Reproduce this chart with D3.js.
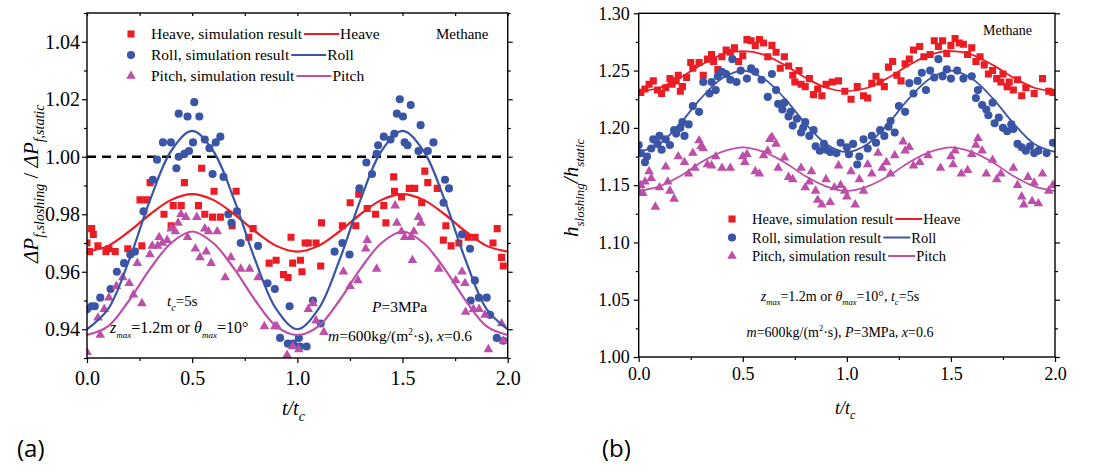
<!DOCTYPE html>
<html>
<head>
<meta charset="utf-8">
<script src="https://cdn.jsdelivr.net/npm/d3@7"></script>
<style>
  body { margin: 0; background: #fff; }
  svg { display: block; }
</style>
</head>
<body>
<div id="chart"></div>
<script>
// ---------- data ----------
const curveT = [0, 0.1, 0.2, 0.3, 0.4, 0.5, 0.6, 0.7, 0.8, 0.9, 1.0, 1.1, 1.2, 1.3, 1.4, 1.5, 1.6, 1.7, 1.8, 1.9, 2.0];

// (a) pressure drop ratio
const aHeaveFit = [0.967, 0.969, 0.974, 0.980, 0.985, 0.987, 0.985, 0.980, 0.974, 0.969, 0.967, 0.969, 0.974, 0.980, 0.985, 0.987, 0.985, 0.980, 0.974, 0.969, 0.967];
const aRollFit  = [0.940, 0.947, 0.964, 0.985, 1.002, 1.009, 1.002, 0.985, 0.964, 0.947, 0.940, 0.947, 0.964, 0.985, 1.002, 1.009, 1.002, 0.985, 0.964, 0.947, 0.940];
const aPitchFit = [0.938, 0.941, 0.950, 0.961, 0.970, 0.974, 0.970, 0.961, 0.950, 0.941, 0.938, 0.941, 0.950, 0.961, 0.970, 0.974, 0.970, 0.961, 0.950, 0.941, 0.938];

const aHeavePts = [[0.000,0.970],[0.012,0.967],[0.022,0.975],[0.030,0.973],[0.052,0.969],[0.090,0.967],[0.104,0.968],[0.134,0.967],
  [0.194,0.968],[0.252,0.985],[0.284,0.985],[0.261,0.969],[0.300,0.991],[0.366,0.980],[0.400,0.976],[0.410,0.983],[0.448,0.983],
  [0.463,0.991],[0.530,0.983],[0.545,0.996],[0.560,0.980],[0.597,0.979],[0.604,0.988],[0.634,0.979],[0.690,0.976],[0.709,0.988],
  [0.769,0.972],[0.790,0.975],[0.866,0.963],[0.899,0.964],[0.934,0.959],[0.956,0.958],[0.978,0.963],[0.970,0.972],[1.015,0.964],
  [1.022,0.960],[1.037,0.970],[1.052,0.970],[1.089,0.970],[1.111,0.962],[1.115,0.977],[1.214,0.976],[1.251,0.984],[1.278,0.976],
  [1.292,0.987],[1.332,0.982],[1.372,0.980],[1.411,0.983],[1.421,0.977],[1.458,0.993],[1.462,0.988],[1.495,0.986],[1.532,0.989],
  [1.558,0.989],[1.591,0.984],[1.606,0.995],[1.620,0.991],[1.665,0.989],[1.694,0.971],[1.706,0.976],[1.731,0.969],[1.768,0.970],
  [1.812,0.972],[1.845,0.972],[1.930,0.970],[1.950,0.975],[1.971,0.965],[1.979,0.962]];

const aRollPts = [[0.000,0.947],[0.022,0.948],[0.037,0.948],[0.063,0.951],[0.112,0.954],[0.142,0.960],[0.176,0.963],[0.206,0.966],
  [0.228,0.967],[0.269,0.981],[0.313,0.992],[0.333,0.999],[0.361,1.005],[0.399,1.005],[0.425,0.996],[0.436,1.000],[0.463,1.001],
  [0.485,1.002],[0.436,1.015],[0.478,1.014],[0.534,1.014],[0.510,1.019],[0.504,1.005],[0.560,1.006],[0.582,1.003],[0.612,1.005],
  [0.634,1.007],[0.597,0.994],[0.649,0.993],[0.672,0.980],[0.713,0.981],[0.687,0.977],[0.731,0.970],[0.813,0.969],[0.858,0.956],
  [0.893,0.954],[0.918,0.937],[0.955,0.935],[0.963,0.948],[0.980,0.935],[1.007,0.937],[1.012,0.934],[1.044,0.934],[1.074,0.950],
  [1.111,0.942],[1.177,0.967],[1.214,0.970],[1.248,0.966],[1.295,0.989],[1.328,0.998],[1.355,0.994],[1.377,1.001],[1.384,1.004],
  [1.411,1.007],[1.443,1.006],[1.461,1.008],[1.473,1.015],[1.487,1.020],[1.502,1.014],[1.539,1.018],[1.510,1.005],[1.524,1.004],
  [1.586,1.011],[1.576,1.002],[1.620,1.002],[1.647,1.005],[1.702,0.992],[1.721,0.989],[1.695,0.984],[1.783,0.973],[1.821,0.968],
  [1.844,0.957],[1.824,0.950],[1.863,0.951],[1.900,0.951],[1.916,0.945],[1.948,0.937],[1.979,0.936]];

const aPitchPts = [[0.000,0.932],[0.052,0.944],[0.063,0.938],[0.082,0.947],[0.104,0.951],[0.140,0.955],[0.170,0.958],[0.201,0.956],
  [0.221,0.952],[0.261,0.949],[0.239,0.963],[0.299,0.966],[0.310,0.969],[0.336,0.969],[0.358,0.970],[0.381,0.971],[0.343,0.972],
  [0.400,0.975],[0.420,0.974],[0.447,0.980],[0.433,0.977],[0.470,0.979],[0.478,0.972],[0.515,0.968],[0.522,0.979],[0.537,0.965],
  [0.560,0.975],[0.567,0.967],[0.578,0.974],[0.590,0.963],[0.619,0.974],[0.657,0.958],[0.684,0.965],[0.731,0.961],[0.773,0.961],
  [0.813,0.958],[0.843,0.941],[0.893,0.941],[0.903,0.941],[0.951,0.931],[0.978,0.934],[1.007,0.933],[1.052,0.947],[1.074,0.949],
  [1.089,0.943],[1.126,0.939],[1.219,0.960],[1.251,0.955],[1.288,0.957],[1.325,0.968],[1.332,0.971],[1.377,0.961],[1.465,0.983],
  [1.473,0.977],[1.495,0.974],[1.510,0.972],[1.539,0.972],[1.554,0.974],[1.576,0.979],[1.588,0.977],[1.547,0.964],[1.672,0.961],
  [1.753,0.957],[1.783,0.960],[1.797,0.956],[1.800,0.946],[1.837,0.947],[1.864,0.947],[1.892,0.945],[1.908,0.933],[1.971,0.942],
  [1.979,0.936]];

// (b) heat transfer coefficient ratio
const bHeaveFit = [1.232, 1.235, 1.244, 1.255, 1.264, 1.267, 1.264, 1.255, 1.244, 1.235, 1.232, 1.235, 1.244, 1.255, 1.264, 1.267, 1.264, 1.255, 1.244, 1.235, 1.232];
const bRollFit  = [1.179, 1.186, 1.204, 1.226, 1.243, 1.250, 1.243, 1.226, 1.204, 1.186, 1.179, 1.186, 1.204, 1.226, 1.243, 1.250, 1.243, 1.226, 1.204, 1.186, 1.179];
const bPitchFit = [1.145, 1.149, 1.158, 1.170, 1.179, 1.183, 1.179, 1.170, 1.158, 1.149, 1.145, 1.149, 1.158, 1.170, 1.179, 1.183, 1.179, 1.170, 1.158, 1.149, 1.145];

const bHeavePts = [[0.01,1.231],[0.03,1.234],[0.05,1.238],[0.07,1.241],[0.09,1.233],[0.11,1.230],[0.13,1.235],[0.15,1.243],[0.16,1.238],
  [0.18,1.241],[0.19,1.246],[0.20,1.232],[0.21,1.236],[0.23,1.244],[0.25,1.257],[0.26,1.252],[0.29,1.257],[0.31,1.246],[0.33,1.260],
  [0.35,1.264],[0.36,1.258],[0.38,1.251],[0.40,1.262],[0.42,1.268],[0.44,1.266],[0.46,1.270],[0.48,1.258],[0.50,1.263],[0.52,1.277],
  [0.54,1.276],[0.56,1.272],[0.58,1.277],[0.60,1.274],[0.62,1.262],[0.64,1.272],[0.66,1.266],[0.68,1.252],[0.70,1.262],[0.72,1.254],
  [0.74,1.246],[0.75,1.240],[0.77,1.250],[0.78,1.238],[0.80,1.236],[0.82,1.243],[0.84,1.229],[0.86,1.234],[0.88,1.228],[0.90,1.238],
  [0.93,1.240],[0.96,1.241],[0.99,1.232],[1.02,1.225],[1.05,1.236],[1.08,1.228],[1.10,1.226],[1.12,1.239],[1.14,1.245],[1.16,1.240],
  [1.18,1.236],[1.20,1.253],[1.22,1.258],[1.24,1.246],[1.26,1.241],[1.28,1.256],[1.30,1.260],[1.32,1.268],[1.35,1.271],[1.37,1.262],
  [1.40,1.264],[1.42,1.276],[1.44,1.271],[1.46,1.276],[1.48,1.265],[1.50,1.272],[1.52,1.278],[1.54,1.274],[1.56,1.273],[1.58,1.264],
  [1.60,1.270],[1.62,1.258],[1.64,1.262],[1.66,1.255],[1.68,1.247],[1.70,1.250],[1.72,1.243],[1.74,1.240],[1.75,1.247],[1.77,1.236],
  [1.78,1.240],[1.80,1.233],[1.82,1.242],[1.84,1.228],[1.86,1.235],[1.90,1.230],[1.94,1.243],[1.97,1.232],[1.99,1.231]];

const bRollPts = [[0.00,1.185],[0.01,1.178],[0.03,1.170],[0.04,1.175],[0.06,1.182],[0.07,1.190],[0.09,1.186],[0.10,1.193],[0.11,1.181],
  [0.13,1.190],[0.15,1.185],[0.17,1.198],[0.18,1.195],[0.20,1.200],[0.21,1.205],[0.22,1.193],[0.24,1.203],[0.26,1.219],[0.29,1.214],
  [0.31,1.240],[0.34,1.230],[0.35,1.240],[0.37,1.233],[0.38,1.245],[0.40,1.249],[0.42,1.247],[0.44,1.242],[0.45,1.260],[0.47,1.240],
  [0.49,1.250],[0.52,1.243],[0.54,1.252],[0.56,1.249],[0.59,1.242],[0.62,1.227],[0.64,1.247],[0.66,1.233],[0.67,1.221],[0.69,1.216],
  [0.70,1.222],[0.72,1.210],[0.73,1.214],[0.74,1.202],[0.76,1.208],[0.78,1.196],[0.79,1.200],[0.80,1.205],[0.82,1.193],[0.84,1.198],
  [0.85,1.184],[0.87,1.180],[0.89,1.186],[0.90,1.181],[0.92,1.179],[0.95,1.178],[0.97,1.187],[1.00,1.183],[1.01,1.177],[1.03,1.186],
  [1.05,1.168],[1.06,1.175],[1.08,1.190],[1.10,1.182],[1.12,1.193],[1.14,1.187],[1.16,1.198],[1.18,1.193],[1.20,1.201],[1.21,1.206],
  [1.23,1.196],[1.25,1.219],[1.28,1.214],[1.30,1.239],[1.32,1.230],[1.34,1.241],[1.36,1.248],[1.38,1.233],[1.40,1.250],[1.42,1.244],
  [1.44,1.260],[1.46,1.245],[1.48,1.251],[1.50,1.243],[1.53,1.250],[1.56,1.243],[1.60,1.245],[1.62,1.226],[1.63,1.233],[1.65,1.220],
  [1.67,1.216],[1.68,1.211],[1.70,1.222],[1.71,1.204],[1.73,1.209],[1.75,1.200],[1.77,1.197],[1.79,1.203],[1.80,1.199],[1.82,1.186],
  [1.84,1.183],[1.86,1.180],[1.88,1.184],[1.90,1.178],[1.92,1.180],[1.96,1.178],[1.99,1.187]];

const bPitchPts = [[0.00,1.145],[0.01,1.150],[0.02,1.143],[0.03,1.153],[0.05,1.162],[0.06,1.156],[0.08,1.131],[0.10,1.148],[0.13,1.166],
  [0.14,1.153],[0.15,1.145],[0.17,1.138],[0.19,1.175],[0.22,1.170],[0.24,1.160],[0.26,1.178],[0.27,1.165],[0.29,1.189],[0.30,1.184],
  [0.31,1.182],[0.33,1.168],[0.35,1.167],[0.37,1.175],[0.40,1.165],[0.44,1.165],[0.50,1.175],[0.51,1.170],[0.52,1.177],[0.56,1.162],
  [0.58,1.160],[0.60,1.176],[0.62,1.180],[0.63,1.190],[0.64,1.192],[0.66,1.186],[0.67,1.165],[0.70,1.174],[0.72,1.157],[0.74,1.155],
  [0.78,1.165],[0.80,1.148],[0.82,1.153],[0.83,1.162],[0.85,1.145],[0.86,1.137],[0.88,1.133],[0.90,1.155],[0.92,1.135],[0.94,1.148],
  [0.96,1.167],[0.97,1.150],[0.99,1.145],[1.00,1.140],[1.02,1.162],[1.04,1.133],[1.06,1.155],[1.08,1.145],[1.10,1.168],[1.12,1.160],
  [1.15,1.178],[1.17,1.165],[1.19,1.170],[1.21,1.160],[1.23,1.176],[1.27,1.188],[1.28,1.180],[1.30,1.183],[1.32,1.167],[1.35,1.170],
  [1.39,1.176],[1.45,1.165],[1.50,1.175],[1.51,1.168],[1.52,1.180],[1.55,1.160],[1.58,1.163],[1.60,1.177],[1.62,1.185],[1.63,1.191],
  [1.65,1.180],[1.67,1.160],[1.70,1.172],[1.72,1.155],[1.74,1.160],[1.80,1.165],[1.82,1.150],[1.84,1.140],[1.85,1.133],[1.87,1.157],
  [1.89,1.136],[1.90,1.152],[1.92,1.134],[1.94,1.160],[1.97,1.145],[1.99,1.150]];

const xTicks = [0, 0.5, 1.0, 1.5, 2.0];
const xMinor = [0.25, 0.75, 1.25, 1.75];
const aYTicks = [0.94, 0.96, 0.98, 1.00, 1.02, 1.04];
const aYMinor = [0.93, 0.95, 0.97, 0.99, 1.01, 1.03, 1.05];
const bYTicks = [1.00, 1.05, 1.10, 1.15, 1.20, 1.25, 1.30];
const bYMinor = [1.025, 1.075, 1.125, 1.175, 1.225, 1.275];

// ---------- colours / fonts ----------
const RED = "#ec1c24", BLUE = "#3a55a5", PINK = "#bd4fa9";
const SERIF = '"Liberation Serif", "Times New Roman", serif';

const svg = d3.select("#chart").append("svg")
  .attr("width", 1113)
  .attr("height", 473)
  .attr("font-family", SERIF);

// writes a text made of plain / italic / sub / sup pieces
function rich(textSel, parts, size) {
  textSel.attr("font-family", SERIF).attr("fill", "#000");
  let shift = 0;
  parts.forEach(([s, kind, subSize]) => {
    const t = textSel.append("tspan").text(s);
    let target = 0, fs = size;
    if (kind === "sub" || kind === "subi") { target = size * 0.3; fs = subSize || size * 0.7; }
    if (kind === "sup") { target = -size * 0.4; fs = size * 0.6; }
    t.attr("dy", target - shift).style("font-size", fs + "px");
    if (kind === "i" || kind === "subi") t.style("font-style", "italic");
    shift = target;
  });
  return textSel;
}

function drawPanel(o) {
  const x = d3.scaleLinear().domain([0, 2]).range([o.x0, o.x1]);
  const y = d3.scaleLinear().domain(o.yDom).range([o.y1, o.y0]);
  const g = svg.append("g");

  g.append("clipPath").attr("id", o.id + "clip")
    .append("rect").attr("x", o.x0).attr("y", o.y0)
    .attr("width", o.x1 - o.x0).attr("height", o.y1 - o.y0);
  const plot = g.append("g").attr("clip-path", `url(#${o.id}clip)`);

  if (o.refLine) {
    plot.append("line")
      .attr("x1", o.x0).attr("x2", o.x1)
      .attr("y1", y(o.refLine)).attr("y2", y(o.refLine))
      .attr("stroke", "#000").attr("stroke-width", 2.4)
      .attr("stroke-dasharray", "9,6");
  }

  const line = d3.line()
    .x((d, i) => x(curveT[i]))
    .y(d => y(d))
    .curve(d3.curveCatmullRom);

  const shapes = {
    square: d3.symbol(d3.symbolSquare, 50)(),
    circle: d3.symbol(d3.symbolCircle, 52)(),
    triangle: d3.symbol(d3.symbolTriangle, 40)()
  };

  o.series.forEach(s => {
    plot.append("g").selectAll("path")
      .data(s.pts)
      .join("path")
      .attr("d", shapes[s.shape])
      .attr("transform", d => `translate(${x(d[0])},${y(d[1])})`)
      .attr("fill", s.color);
  });
  o.series.forEach(s => {
    plot.append("path")
      .datum(s.fit)
      .attr("d", line)
      .attr("fill", "none")
      .attr("stroke", s.color)
      .attr("stroke-width", o.lineW);
  });

  // axes
  const fmtY = d3.format(".2f"), fmtX = d3.format(".1f");
  g.append("g").attr("transform", `translate(0,${o.y1})`)
    .call(d3.axisBottom(x).tickValues(xTicks).tickFormat(fmtX).tickSize(5).tickPadding(o.xPad))
    .attr("font-size", o.xFont).attr("font-family", SERIF);
  g.append("g").attr("transform", `translate(0,${o.y1})`)
    .call(d3.axisBottom(x).tickValues(xMinor).tickFormat("").tickSize(3));
  g.append("g").attr("transform", `translate(${o.x0},0)`)
    .call(d3.axisLeft(y).tickValues(o.yTicks).tickFormat(fmtY).tickSize(5).tickPadding(o.yPad))
    .attr("font-size", o.yFont).attr("font-family", SERIF);
  g.append("g").attr("transform", `translate(${o.x0},0)`)
    .call(d3.axisLeft(y).tickValues(o.yMinor).tickFormat("").tickSize(3));
  g.append("g").attr("transform", `translate(${o.x1},0)`)
    .call(d3.axisRight(y).tickValues(o.yTicks).tickFormat("").tickSize(5));
  g.append("g").attr("transform", `translate(${o.x1},0)`)
    .call(d3.axisRight(y).tickValues(o.yMinor).tickFormat("").tickSize(3));
  if (o.topTicks) {
    // small inward ticks along the top edge
    g.append("g").attr("transform", `translate(0,${o.y0})`)
      .call(d3.axisBottom(x).tickValues(xMinor.concat(xTicks)).tickFormat("").tickSize(3));
  }
  g.selectAll(".domain").remove();
  g.selectAll(".tick line").attr("stroke", "#000").attr("stroke-width", 1.2);
  g.selectAll(".tick text").attr("fill", "#000").attr("font-family", SERIF);

  g.append("rect")
    .attr("x", o.x0).attr("y", o.y0)
    .attr("width", o.x1 - o.x0).attr("height", o.y1 - o.y0)
    .attr("fill", "none").attr("stroke", "#000").attr("stroke-width", 1.4);

  // legend
  o.series.forEach((s, i) => {
    const ly = o.legY + i * o.legDy;
    g.append("path").attr("d", shapes[s.shape])
      .attr("transform", `translate(${o.legX},${ly - 5})`)
      .attr("fill", s.color);
    const t = g.append("text")
      .attr("x", o.legX + o.legGap).attr("y", ly)
      .attr("font-family", SERIF)
      .attr("font-size", o.legFont)
      .text(s.name + ", simulation result");
    const end = o.legX + o.legGap + t.node().getComputedTextLength() + 2;
    g.append("line")
      .attr("x1", end).attr("x2", end + o.legLine)
      .attr("y1", ly - 5).attr("y2", ly - 5)
      .attr("stroke", s.color).attr("stroke-width", 2);
    g.append("text")
      .attr("x", end + o.legLine + 1).attr("y", ly)
      .attr("font-family", SERIF)
      .attr("font-size", o.legFont)
      .text(s.name);
  });

  return g;
}

// ---------- panel (a) ----------
const ga = drawPanel({
  id: "a", x0: 87, x1: 507.7, y0: 13, y1: 358,
  yDom: [0.93, 1.05], yTicks: aYTicks, yMinor: aYMinor,
  xFont: 20, yFont: 20, xPad: 8, yPad: 2, topTicks: true,
  refLine: 1.00, lineW: 2.2,
  legX: 131, legY: 39, legDy: 21, legGap: 20, legFont: 15.5, legLine: 35,
  series: [
    { name: "Heave", shape: "square", color: RED, pts: aHeavePts, fit: aHeaveFit },
    { name: "Roll", shape: "circle", color: BLUE, pts: aRollPts, fit: aRollFit },
    { name: "Pitch", shape: "triangle", color: PINK, pts: aPitchPts, fit: aPitchFit }
  ]
});

ga.append("text").attr("x", 436).attr("y", 39)
  .attr("font-family", SERIF).attr("font-size", 15).text("Methane");
rich(ga.append("text").attr("x", 167).attr("y", 306), [["t", "i"], ["c", "subi"], ["=5s"]], 15);
rich(ga.append("text").attr("x", 110).attr("y", 333),
  [["z", "i"], ["max", "subi", 9], ["=1.2m or "], ["θ", "i"], ["max", "subi", 9], ["=10°"]], 16);
rich(ga.append("text").attr("x", 372).attr("y", 312), [["P", "i"], ["=3MPa"]], 15.5);
rich(ga.append("text").attr("x", 328).attr("y", 341),
  [["m", "i"], ["=600kg/(m"], ["2", "sup"], ["·s),  "], ["x", "i"], ["=0.6"]], 15.5);

// axis titles (a)
rich(ga.append("text").attr("transform", "translate(38,263) rotate(-90)"),
  [["ΔP", "i"], ["f,sloshing", "subi", 14], [" / "], ["ΔP", "i"], ["f,static", "subi", 14]], 21);
rich(ga.append("text").attr("x", 282).attr("y", 415),
  [["t/t", "i"], ["c", "subi", 14]], 20);

// ---------- panel (b) ----------
const gb = drawPanel({
  id: "b", x0: 638.7, x1: 1055, y0: 13.3, y1: 357,
  yDom: [1.00, 1.30], yTicks: bYTicks, yMinor: bYMinor,
  xFont: 18, yFont: 18, xPad: 5, yPad: 4, topTicks: false,
  refLine: null, lineW: 1.8,
  legX: 732, legY: 224, legDy: 18.5, legGap: 20, legFont: 14.5, legLine: 27,
  series: [
    { name: "Heave", shape: "square", color: RED, pts: bHeavePts, fit: bHeaveFit },
    { name: "Roll", shape: "circle", color: BLUE, pts: bRollPts, fit: bRollFit },
    { name: "Pitch", shape: "triangle", color: PINK, pts: bPitchPts, fit: bPitchFit }
  ]
});

gb.append("text").attr("x", 983).attr("y", 35)
  .attr("font-family", SERIF).attr("font-size", 14).text("Methane");
rich(gb.append("text").attr("x", 840).attr("y", 301).attr("text-anchor", "middle"),
  [["z", "i"], ["max", "subi", 8.5], ["=1.2m or "], ["θ", "i"], ["max", "subi", 8.5], ["=10°, "], ["t", "i"], ["c", "subi", 9], ["=5s"]], 14);
rich(gb.append("text").attr("x", 840).attr("y", 337).attr("text-anchor", "middle"),
  [["m", "i"], ["=600kg/(m"], ["2", "sup"], ["·s), "], ["P", "i"], ["=3MPa, "], ["x", "i"], ["=0.6"]], 14);

rich(gb.append("text").attr("transform", "translate(578,237) rotate(-90)"),
  [["h", "i"], ["sloshing", "subi", 13], ["/", "i"], ["h", "i"], ["static", "subi", 13]], 21);
rich(gb.append("text").attr("x", 835).attr("y", 414),
  [["t/t", "i"], ["c", "subi", 12]], 18);

// panel letters
svg.append("text").attr("x", 17).attr("y", 457)
  .attr("font-family", '"Open Sans", sans-serif').attr("font-size", 24).text("(a)");
svg.append("text").attr("x", 602).attr("y", 457)
  .attr("font-family", '"Open Sans", sans-serif').attr("font-size", 24).text("(b)");
</script>
</body>
</html>
